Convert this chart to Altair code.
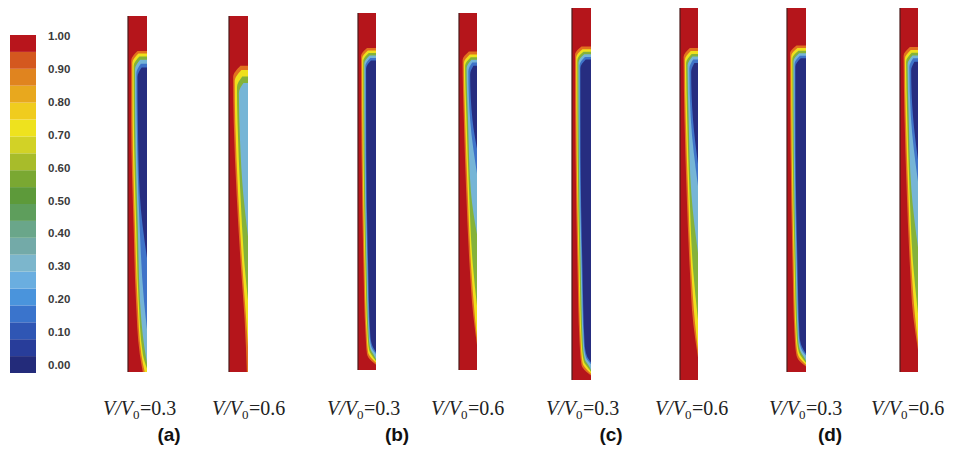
import altair as alt
import pandas as pd

# ---------------- data ----------------
ratio_text = ["0.3", "0.6", "0.3", "0.6", "0.3", "0.6", "0.3", "0.6"]
panel_text = ["(a)", "(b)", "(c)", "(d)"]

# colour bar: 20 bands of 0.05 from 0.00 (bottom) to 1.00 (top)
cbar_lo = [i * 0.05 for i in range(20)]
cbar_colors = ["#232b7a", "#283d9a", "#2f56b4", "#3a74cc", "#4a94dc",
               "#6aaee0", "#7cb6cc", "#73aaa8", "#6aa68a", "#5e9e5c",
               "#5d9a3a", "#7aa832", "#a8bc2a", "#d2d226", "#eee21e",
               "#f0cc1e", "#e8a81e", "#e0841f", "#d4581f", "#b8151c"]
cbar_ticks = [1.00, 0.90, 0.80, 0.70, 0.60, 0.50, 0.40, 0.30, 0.20, 0.10, 0.00]

# contour levels (outer to inner) and their fill colours
level_names = ["A", "B", "C", "D", "E", "F"]
level_colors = ["#e2701f", "#efe01d", "#84b23a", "#76b5d6", "#3f73c8", "#262d80"]
strip_red = "#b5151b"

# contour knots per strip: (depth from top 0..1, position across 0=wall..1=axis)
contours = [
    {  # (a) 0.3
        "A": [(0.098, 0.50), (0.124, 0.17), (0.30, 0.17), (0.60, 0.30), (0.80, 0.42), (0.95, 0.62), (1.00, 0.78)],
        "B": [(0.105, 0.55), (0.131, 0.23), (0.30, 0.24), (0.60, 0.37), (0.80, 0.50), (0.95, 0.70), (1.00, 0.88)],
        "C": [(0.114, 0.60), (0.140, 0.30), (0.30, 0.31), (0.60, 0.44), (0.80, 0.56), (0.95, 0.78), (0.99, 1.00)],
        "D": [(0.123, 0.64), (0.149, 0.37), (0.30, 0.38), (0.60, 0.52), (0.80, 0.63), (0.93, 0.86), (0.975, 1.00)],
        "E": [(0.134, 0.68), (0.160, 0.44), (0.30, 0.46), (0.60, 0.62), (0.80, 0.84), (0.88, 1.00)],
        "F": [(0.145, 0.72), (0.171, 0.50), (0.30, 0.52), (0.50, 0.62), (0.68, 1.00)],
    },
    {  # (a) 0.6
        "A": [(0.140, 0.60), (0.172, 0.22), (0.30, 0.25), (0.50, 0.40), (0.70, 0.62), (0.85, 0.82), (1.00, 0.94)],
        "B": [(0.152, 0.65), (0.184, 0.30), (0.30, 0.33), (0.50, 0.48), (0.70, 0.70), (0.85, 0.90), (0.93, 1.00)],
        "C": [(0.170, 0.70), (0.200, 0.42), (0.30, 0.45), (0.50, 0.60), (0.70, 0.82), (0.80, 1.00)],
        "D": [(0.188, 0.76), (0.216, 0.52), (0.35, 0.58), (0.50, 0.75), (0.62, 1.00)],
    },
    {  # (b) 0.3
        "A": [(0.098, 0.50), (0.120, 0.17), (0.40, 0.20), (0.70, 0.30), (0.90, 0.42), (0.955, 0.50), (0.975, 0.75), (0.985, 1.00)],
        "B": [(0.105, 0.55), (0.127, 0.23), (0.40, 0.26), (0.70, 0.36), (0.90, 0.48), (0.950, 0.56), (0.970, 0.80), (0.980, 1.00)],
        "C": [(0.112, 0.60), (0.134, 0.29), (0.40, 0.31), (0.70, 0.41), (0.90, 0.53), (0.945, 0.62), (0.965, 0.85), (0.975, 1.00)],
        "D": [(0.119, 0.64), (0.141, 0.35), (0.40, 0.37), (0.70, 0.47), (0.90, 0.59), (0.940, 0.68), (0.960, 0.90), (0.970, 1.00)],
        "E": [(0.126, 0.68), (0.148, 0.41), (0.40, 0.42), (0.70, 0.52), (0.90, 0.64), (0.935, 0.74), (0.955, 1.00)],
        "F": [(0.133, 0.72), (0.156, 0.45), (0.40, 0.46), (0.70, 0.56), (0.90, 0.68), (0.930, 0.78), (0.950, 1.00)],
    },
    {  # (b) 0.6
        "A": [(0.108, 0.55), (0.132, 0.20), (0.30, 0.27), (0.50, 0.40), (0.70, 0.58), (0.85, 0.80), (0.93, 1.00)],
        "B": [(0.116, 0.60), (0.140, 0.27), (0.30, 0.34), (0.50, 0.48), (0.70, 0.66), (0.85, 0.88), (0.91, 1.00)],
        "C": [(0.124, 0.65), (0.148, 0.34), (0.30, 0.42), (0.50, 0.56), (0.70, 0.76), (0.82, 1.00)],
        "D": [(0.131, 0.69), (0.155, 0.42), (0.30, 0.50), (0.50, 0.66), (0.62, 1.00)],
        "E": [(0.139, 0.73), (0.163, 0.52), (0.30, 0.62), (0.45, 1.00)],
        "F": [(0.148, 0.80), (0.172, 0.62), (0.30, 0.75), (0.38, 1.00)],
    },
    {  # (c) 0.3
        "A": [(0.106, 0.50), (0.128, 0.16), (0.40, 0.19), (0.70, 0.29), (0.90, 0.40), (0.960, 0.50), (0.978, 0.75), (0.988, 1.00)],
        "B": [(0.113, 0.55), (0.135, 0.22), (0.40, 0.25), (0.70, 0.35), (0.90, 0.46), (0.955, 0.56), (0.973, 0.80), (0.983, 1.00)],
        "C": [(0.120, 0.60), (0.142, 0.28), (0.40, 0.30), (0.70, 0.40), (0.90, 0.51), (0.950, 0.62), (0.968, 0.85), (0.978, 1.00)],
        "D": [(0.127, 0.64), (0.149, 0.34), (0.40, 0.36), (0.70, 0.46), (0.90, 0.57), (0.945, 0.68), (0.963, 0.90), (0.973, 1.00)],
        "E": [(0.134, 0.68), (0.156, 0.40), (0.40, 0.41), (0.70, 0.51), (0.90, 0.62), (0.940, 0.74), (0.958, 1.00)],
        "F": [(0.141, 0.72), (0.164, 0.44), (0.40, 0.45), (0.70, 0.55), (0.90, 0.66), (0.935, 0.78), (0.953, 1.00)],
    },
    {  # (c) 0.6
        "A": [(0.110, 0.55), (0.134, 0.20), (0.30, 0.25), (0.50, 0.37), (0.70, 0.54), (0.85, 0.74), (0.94, 1.00)],
        "B": [(0.118, 0.60), (0.142, 0.27), (0.30, 0.32), (0.50, 0.45), (0.70, 0.62), (0.85, 0.84), (0.92, 1.00)],
        "C": [(0.126, 0.65), (0.150, 0.34), (0.30, 0.40), (0.50, 0.53), (0.70, 0.72), (0.84, 1.00)],
        "D": [(0.133, 0.69), (0.157, 0.42), (0.30, 0.48), (0.50, 0.63), (0.66, 1.00)],
        "E": [(0.141, 0.73), (0.165, 0.52), (0.30, 0.60), (0.48, 1.00)],
        "F": [(0.150, 0.80), (0.174, 0.62), (0.30, 0.72), (0.42, 1.00)],
    },
    {  # (d) 0.3
        "A": [(0.108, 0.50), (0.130, 0.16), (0.40, 0.19), (0.70, 0.29), (0.90, 0.40), (0.955, 0.50), (0.975, 0.75), (0.985, 1.00)],
        "B": [(0.115, 0.55), (0.137, 0.22), (0.40, 0.25), (0.70, 0.35), (0.90, 0.46), (0.950, 0.56), (0.970, 0.80), (0.980, 1.00)],
        "C": [(0.122, 0.60), (0.144, 0.28), (0.40, 0.30), (0.70, 0.40), (0.90, 0.51), (0.945, 0.62), (0.965, 0.85), (0.975, 1.00)],
        "D": [(0.129, 0.64), (0.151, 0.34), (0.40, 0.36), (0.70, 0.46), (0.90, 0.57), (0.940, 0.68), (0.960, 0.90), (0.970, 1.00)],
        "E": [(0.136, 0.68), (0.158, 0.40), (0.40, 0.41), (0.70, 0.51), (0.90, 0.62), (0.935, 0.74), (0.955, 1.00)],
        "F": [(0.143, 0.72), (0.166, 0.44), (0.40, 0.45), (0.70, 0.55), (0.90, 0.66), (0.930, 0.78), (0.950, 1.00)],
    },
    {  # (d) 0.6
        "A": [(0.112, 0.55), (0.136, 0.20), (0.30, 0.25), (0.50, 0.37), (0.70, 0.54), (0.85, 0.74), (0.94, 1.00)],
        "B": [(0.120, 0.60), (0.144, 0.27), (0.30, 0.32), (0.50, 0.45), (0.70, 0.62), (0.85, 0.84), (0.92, 1.00)],
        "C": [(0.128, 0.65), (0.152, 0.34), (0.30, 0.40), (0.50, 0.53), (0.70, 0.72), (0.84, 1.00)],
        "D": [(0.135, 0.69), (0.159, 0.42), (0.30, 0.48), (0.50, 0.63), (0.66, 1.00)],
        "E": [(0.143, 0.73), (0.167, 0.52), (0.30, 0.60), (0.48, 1.00)],
        "F": [(0.152, 0.80), (0.176, 0.62), (0.30, 0.72), (0.42, 1.00)],
    },
]

# ---------------- figure layout (figure pixel frame) ----------------
FIG_X = [8, 946]
FIG_Y = [8, 445]
strip_left = [128, 229, 358, 459, 572, 680, 787, 900]
strip_right = [147, 248, 376, 477, 591, 698, 806, 918]
strip_top = [16, 16, 13, 13, 7, 7, 6, 6]
strip_bottom = [372, 372, 370, 370, 380, 380, 372, 372]
label_left = [103, 212, 327, 431, 546, 655, 769, 871]
label_base = 415
panel_center = [169, 397, 611, 830]
panel_mid = 435
cbar_box = dict(left=10, right=36, top=35, bottom=373)
cbar_lab = dict(x=48, top=37, bottom=366)

strips = pd.DataFrame(dict(strip=range(8), left=strip_left, right=strip_right,
                           top=strip_top, bottom=strip_bottom))

rows = []
for s, levels in enumerate(contours):
    for lv, pts in levels.items():
        for i, (d, xf) in enumerate(pts):
            rows.append(dict(strip=s, level=lv, i=i, d=d, xf=xf))
knots = pd.DataFrame(rows).merge(strips, on="strip")

xs = alt.Scale(domain=FIG_X, nice=False, zero=False)
ys = alt.Scale(domain=FIG_Y, nice=False, zero=False, reverse=True)


def X(f):
    return alt.X(f, type="quantitative", scale=xs, axis=None)


def Y(f):
    return alt.Y(f, type="quantitative", scale=ys, axis=None)


layers = []

# red strips
layers.append(
    alt.Chart(strips).mark_rect(color=strip_red).encode(
        x=X("left"), x2="right:Q", y=Y("top"), y2="bottom:Q")
)

# contour regions
for lv, col in zip(level_names, level_colors):
    sub = knots[knots.level == lv]
    layers.append(
        alt.Chart(sub).transform_calculate(
            px="datum.left + datum.xf * (datum.right - datum.left)",
            py="datum.top + datum.d * (datum.bottom - datum.top)",
        ).mark_area(orient="horizontal", interpolate="monotone", color=col).encode(
            y=Y("py"), x=X("px"), x2="right:Q", detail="strip:N")
    )

# dark wall line
layers.append(
    alt.Chart(strips).mark_rule(color="#4a1c1c", strokeWidth=1.2).encode(
        x=X("left"), y=Y("top"), y2="bottom:Q")
)

# colour bar
cb = pd.DataFrame(dict(lo=cbar_lo, color=cbar_colors))
cb["hi"] = cb["lo"] + 0.05
for k, v in cbar_box.items():
    cb[k] = v
layers.append(
    alt.Chart(cb).transform_calculate(
        y1="datum.bottom - datum.lo * (datum.bottom - datum.top)",
        y2="datum.bottom - datum.hi * (datum.bottom - datum.top)",
    ).mark_rect().encode(
        x=X("left"), x2="right:Q", y=Y("y1"), y2="y2:Q",
        color=alt.Color("color:N", scale=None))
)

cl = pd.DataFrame(dict(v=cbar_ticks))
for k, v in cbar_lab.items():
    cl[k] = v
layers.append(
    alt.Chart(cl).transform_calculate(
        py="datum.top + (1 - datum.v) * (datum.bottom - datum.top)"
    ).mark_text(align="left", baseline="middle", font="Liberation Sans",
                fontSize=11.5, fontWeight="bold", color="#3a3a3a").encode(
        x=X("x"), y=Y("py"), text=alt.Text("v:Q", format=".2f"))
)

# V/V0 labels (italic V/V, subscript 0, upright =value)
lab = pd.DataFrame(dict(x=label_left, txt=ratio_text))
lab["y"] = label_base
lab["eq"] = "=" + lab["txt"]
fs = 20
layers.append(
    alt.Chart(lab).mark_text(align="left", baseline="alphabetic", font="Liberation Serif",
                             fontSize=fs, fontStyle="italic", color="#222222").encode(
        x=X("x"), y=Y("y"), text=alt.value("V/V"))
)
layers.append(
    alt.Chart(lab).mark_text(align="left", baseline="alphabetic", font="Liberation Serif",
                             fontSize=13, dx=30, dy=4, color="#222222").encode(
        x=X("x"), y=Y("y"), text=alt.value("0"))
)
layers.append(
    alt.Chart(lab).mark_text(align="left", baseline="alphabetic", font="Liberation Serif",
                             fontSize=fs, dx=37, color="#222222").encode(
        x=X("x"), y=Y("y"), text="eq:N")
)

# panel letters
pl = pd.DataFrame(dict(x=panel_center, txt=panel_text))
pl["y"] = panel_mid
layers.append(
    alt.Chart(pl).mark_text(align="center", baseline="middle", font="Liberation Sans",
                            fontSize=19, fontWeight="bold", color="#111111").encode(
        x=X("x"), y=Y("y"), text="txt:N")
)

chart = alt.layer(*layers).properties(
    width=FIG_X[1] - FIG_X[0], height=FIG_Y[1] - FIG_Y[0],
    autosize=alt.AutoSizeParams(type="none"), padding=0,
    background="white",
).configure_view(stroke=None)

chart.save("out.html", embed_options={"renderer": "svg", "actions": False})
